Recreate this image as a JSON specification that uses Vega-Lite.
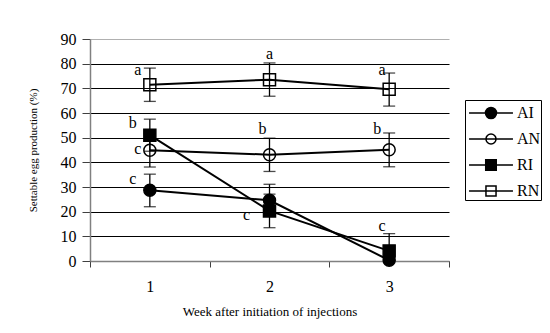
{
  "$schema": "https://vega.github.io/schema/vega-lite/v6.json",
  "width": 359,
  "height": 222,
  "autosize": {"type": "none"},
  "padding": {"left": 90, "top": 39, "right": 101, "bottom": 72},
  "background": "white",
  "config": {
    "font": "Liberation Serif",
    "view": {"stroke": null},
    "axis": {"labelFont": "Liberation Serif", "titleFont": "Liberation Serif", "labelColor": "black", "titleColor": "black", "titleFontWeight": "normal"}
  },
  "resolve": {"scale": {"shape": "independent"}},
  "data": {"values": [
    {"series": "AI", "week": "1", "y": 28.7, "lo": 22.0, "hi": 35.2, "letter": "c", "ly": 31.4},
    {"series": "AI", "week": "2", "y": 24.6, "lo": 18.1, "hi": 31.1, "letter": null, "ly": null},
    {"series": "AI", "week": "3", "y": 0.3, "lo": null, "hi": null, "letter": null, "ly": null},
    {"series": "AN", "week": "1", "y": 44.9, "lo": 38.1, "hi": 51.7, "letter": "c", "ly": 43.5},
    {"series": "AN", "week": "2", "y": 43.1, "lo": 36.3, "hi": 49.8, "letter": "b", "ly": 51.3},
    {"series": "AN", "week": "3", "y": 45.1, "lo": 38.2, "hi": 51.9, "letter": "b", "ly": 51.3},
    {"series": "RI", "week": "1", "y": 51.0, "lo": 44.5, "hi": 57.5, "letter": "b", "ly": 53.9},
    {"series": "RI", "week": "2", "y": 20.3, "lo": 13.5, "hi": 27.1, "letter": "c", "ly": 16.8},
    {"series": "RI", "week": "3", "y": 4.1, "lo": 0, "hi": 11.1, "letter": "c", "ly": 12.2},
    {"series": "RN", "week": "1", "y": 71.5, "lo": 64.7, "hi": 78.2, "letter": "a", "ly": 75.6},
    {"series": "RN", "week": "2", "y": 73.5, "lo": 66.8, "hi": 80.3, "letter": "a", "ly": 82.0},
    {"series": "RN", "week": "3", "y": 69.6, "lo": 62.8, "hi": 76.2, "letter": "a", "ly": 75.6}
  ]},
  "encoding": {
    "x": {
      "field": "week", "type": "ordinal",
      "scale": {"paddingInner": 0, "paddingOuter": 0},
      "axis": {
        "labelAngle": 0, "tickBand": "extent", "title": "Week after initiation of injections",
        "titleFontSize": 13, "titleBaseline": "alphabetic", "titleY": 54.5,
        "labelFontSize": 16, "labelBaseline": "alphabetic", "tickSize": 6, "labelPadding": 24.5,
        "domainColor": "#808080", "domainWidth": 1.5, "tickColor": "#404040", "tickWidth": 1, "grid": false
      }
    }
  },
  "layer": [
    {
      "mark": {"type": "line", "stroke": "black", "strokeWidth": 2},
      "encoding": {
        "y": {
          "field": "y", "type": "quantitative",
          "scale": {"domain": [0, 90], "nice": false},
          "axis": {"title": "Settable egg production (%)", "values": [0, 10, 20, 30, 40, 50, 60, 70, 80, 90], "tickCount": 10, "titleFontSize": 11, "titleX": -57, "titleY": 111, "titleBaseline": "middle", "labelFontSize": 16, "labelPadding": 6, "tickSize": 8, "domainColor": "#808080", "domainWidth": 1.5, "tickColor": "#404040", "tickWidth": 1, "grid": true, "gridWidth": 1, "gridColor": {"condition": {"test": "datum.value === 90", "value": "#b0b0b0"}, "value": "black"}}
        },
        "detail": {"field": "series"}
      }
    },
    {
      "mark": {"type": "rule", "stroke": "black", "strokeWidth": 1.3},
      "encoding": {
        "y": {"field": "lo", "type": "quantitative", "axis": {"title": "Settable egg production (%)", "values": [0, 10, 20, 30, 40, 50, 60, 70, 80, 90], "tickCount": 10, "titleFontSize": 11, "titleX": -57, "titleY": 111, "titleBaseline": "middle", "labelFontSize": 16, "labelPadding": 6, "tickSize": 8, "domainColor": "#808080", "domainWidth": 1.5, "tickColor": "#404040", "tickWidth": 1, "grid": true, "gridWidth": 1, "gridColor": {"condition": {"test": "datum.value === 90", "value": "#b0b0b0"}, "value": "black"}}},
        "y2": {"field": "hi"}
      }
    },
    {
      "mark": {"type": "tick", "color": "black", "size": 12, "thickness": 1.3},
      "encoding": {"y": {"field": "lo", "type": "quantitative", "axis": {"title": "Settable egg production (%)", "values": [0, 10, 20, 30, 40, 50, 60, 70, 80, 90], "tickCount": 10, "titleFontSize": 11, "titleX": -57, "titleY": 111, "titleBaseline": "middle", "labelFontSize": 16, "labelPadding": 6, "tickSize": 8, "domainColor": "#808080", "domainWidth": 1.5, "tickColor": "#404040", "tickWidth": 1, "grid": true, "gridWidth": 1, "gridColor": {"condition": {"test": "datum.value === 90", "value": "#b0b0b0"}, "value": "black"}}}}
    },
    {
      "mark": {"type": "tick", "color": "black", "size": 12, "thickness": 1.3},
      "encoding": {"y": {"field": "hi", "type": "quantitative", "axis": {"title": "Settable egg production (%)", "values": [0, 10, 20, 30, 40, 50, 60, 70, 80, 90], "tickCount": 10, "titleFontSize": 11, "titleX": -57, "titleY": 111, "titleBaseline": "middle", "labelFontSize": 16, "labelPadding": 6, "tickSize": 8, "domainColor": "#808080", "domainWidth": 1.5, "tickColor": "#404040", "tickWidth": 1, "grid": true, "gridWidth": 1, "gridColor": {"condition": {"test": "datum.value === 90", "value": "#b0b0b0"}, "value": "black"}}}}
    },
    {
      "mark": {"type": "point", "filled": true, "stroke": "black", "strokeWidth": 1.5, "opacity": 1, "size": 144},
      "encoding": {
        "y": {"field": "y", "type": "quantitative", "axis": {"title": "Settable egg production (%)", "values": [0, 10, 20, 30, 40, 50, 60, 70, 80, 90], "tickCount": 10, "titleFontSize": 11, "titleX": -57, "titleY": 111, "titleBaseline": "middle", "labelFontSize": 16, "labelPadding": 6, "tickSize": 8, "domainColor": "#808080", "domainWidth": 1.5, "tickColor": "#404040", "tickWidth": 1, "grid": true, "gridWidth": 1, "gridColor": {"condition": {"test": "datum.value === 90", "value": "#b0b0b0"}, "value": "black"}}},
        "shape": {
          "field": "series", "type": "nominal",
          "scale": {"domain": ["AI", "AN", "RI", "RN"], "range": ["circle", "circle", "square", "square"]},
          "legend": null
        },
        "fill": {
          "field": "series", "type": "nominal",
          "scale": {"domain": ["AI", "AN", "RI", "RN"], "range": ["black", "transparent", "black", "transparent"]},
          "legend": null
        }
      }
    },
    {
      "transform": [{"filter": "datum.series === 'none'"}],
      "mark": {"type": "point", "filled": false, "stroke": "black", "strokeWidth": 1.5, "opacity": 1},
      "encoding": {
        "y": {"field": "y", "type": "quantitative", "axis": {"title": "Settable egg production (%)", "values": [0, 10, 20, 30, 40, 50, 60, 70, 80, 90], "tickCount": 10, "titleFontSize": 11, "titleX": -57, "titleY": 111, "titleBaseline": "middle", "labelFontSize": 16, "labelPadding": 6, "tickSize": 8, "domainColor": "#808080", "domainWidth": 1.5, "tickColor": "#404040", "tickWidth": 1, "grid": true, "gridWidth": 1, "gridColor": {"condition": {"test": "datum.value === 90", "value": "#b0b0b0"}, "value": "black"}}},
        "shape": {
          "field": "series", "type": "nominal",
          "scale": {
            "domain": ["AI", "AN", "RI", "RN"],
            "range": [
              "M-1.83,0H1.83M0.46,0A0.46,0.46,0,1,1,-0.46,0A0.46,0.46,0,1,1,0.46,0ZM0.36,0A0.36,0.36,0,1,1,-0.36,0A0.36,0.36,0,1,1,0.36,0ZM0.26,0A0.26,0.26,0,1,1,-0.26,0A0.26,0.26,0,1,1,0.26,0ZM0.16,0A0.16,0.16,0,1,1,-0.16,0A0.16,0.16,0,1,1,0.16,0ZM0.06,0A0.06,0.06,0,1,1,-0.06,0A0.06,0.06,0,1,1,0.06,0Z",
              "M-1.83,0H1.83M0.42,0A0.42,0.42,0,1,1,-0.42,0A0.42,0.42,0,1,1,0.42,0Z",
              "M-1.83,0H1.83M-0.44,-0.44H0.44V0.44H-0.44ZM-0.34,-0.34H0.34V0.34H-0.34ZM-0.24,-0.24H0.24V0.24H-0.24ZM-0.14,-0.14H0.14V0.14H-0.14ZM-0.04,-0.04H0.04V0.04H-0.04Z",
              "M-1.83,0H1.83M-0.42,-0.42H0.42V0.42H-0.42Z"
            ]
          },
          "legend": {
            "title": null, "orient": "none", "legendX": 375, "legendY": 61,
            "strokeColor": "black", "fillColor": "white", "padding": 0,
            "symbolSize": 576, "symbolOffset": 13, "symbolStrokeColor": "black", "symbolStrokeWidth": 1.5,
            "labelFontSize": 16, "labelFont": "Liberation Serif", "labelColor": "black",
            "labelOffset": 13, "rowPadding": 4
          }
        }
      }
    },
    {
      "transform": [{"filter": "datum.series === 'RN' && datum.week === '2'"}],
      "mark": {"type": "text", "fontSize": 16, "font": "Liberation Serif", "baseline": "alphabetic", "align": "center", "dx": 0},
      "encoding": {"y": {"field": "ly", "type": "quantitative", "axis": {"title": "Settable egg production (%)", "values": [0, 10, 20, 30, 40, 50, 60, 70, 80, 90], "tickCount": 10, "titleFontSize": 11, "titleX": -57, "titleY": 111, "titleBaseline": "middle", "labelFontSize": 16, "labelPadding": 6, "tickSize": 8, "domainColor": "#808080", "domainWidth": 1.5, "tickColor": "#404040", "tickWidth": 1, "grid": true, "gridWidth": 1, "gridColor": {"condition": {"test": "datum.value === 90", "value": "#b0b0b0"}, "value": "black"}}}, "text": {"field": "letter"}}
    },
    {
      "transform": [{"filter": "(datum.series === 'RN' && datum.week === '3') || (datum.series === 'AN' && datum.week === '2') || (datum.series === 'RI' && datum.week === '3')"}],
      "mark": {"type": "text", "fontSize": 16, "font": "Liberation Serif", "baseline": "alphabetic", "align": "center", "dx": -7},
      "encoding": {"y": {"field": "ly", "type": "quantitative", "axis": {"title": "Settable egg production (%)", "values": [0, 10, 20, 30, 40, 50, 60, 70, 80, 90], "tickCount": 10, "titleFontSize": 11, "titleX": -57, "titleY": 111, "titleBaseline": "middle", "labelFontSize": 16, "labelPadding": 6, "tickSize": 8, "domainColor": "#808080", "domainWidth": 1.5, "tickColor": "#404040", "tickWidth": 1, "grid": true, "gridWidth": 1, "gridColor": {"condition": {"test": "datum.value === 90", "value": "#b0b0b0"}, "value": "black"}}}, "text": {"field": "letter"}}
    },
    {
      "transform": [{"filter": "(datum.series === 'RN' && datum.week === '1') || (datum.series === 'AN' && datum.week === '1') || (datum.series === 'AN' && datum.week === '3')"}],
      "mark": {"type": "text", "fontSize": 16, "font": "Liberation Serif", "baseline": "alphabetic", "align": "center", "dx": -12},
      "encoding": {"y": {"field": "ly", "type": "quantitative", "axis": {"title": "Settable egg production (%)", "values": [0, 10, 20, 30, 40, 50, 60, 70, 80, 90], "tickCount": 10, "titleFontSize": 11, "titleX": -57, "titleY": 111, "titleBaseline": "middle", "labelFontSize": 16, "labelPadding": 6, "tickSize": 8, "domainColor": "#808080", "domainWidth": 1.5, "tickColor": "#404040", "tickWidth": 1, "grid": true, "gridWidth": 1, "gridColor": {"condition": {"test": "datum.value === 90", "value": "#b0b0b0"}, "value": "black"}}}, "text": {"field": "letter"}}
    },
    {
      "transform": [{"filter": "(datum.series === 'RI' && datum.week === '1') || (datum.series === 'AI' && datum.week === '1')"}],
      "mark": {"type": "text", "fontSize": 16, "font": "Liberation Serif", "baseline": "alphabetic", "align": "center", "dx": -17},
      "encoding": {"y": {"field": "ly", "type": "quantitative", "axis": {"title": "Settable egg production (%)", "values": [0, 10, 20, 30, 40, 50, 60, 70, 80, 90], "tickCount": 10, "titleFontSize": 11, "titleX": -57, "titleY": 111, "titleBaseline": "middle", "labelFontSize": 16, "labelPadding": 6, "tickSize": 8, "domainColor": "#808080", "domainWidth": 1.5, "tickColor": "#404040", "tickWidth": 1, "grid": true, "gridWidth": 1, "gridColor": {"condition": {"test": "datum.value === 90", "value": "#b0b0b0"}, "value": "black"}}}, "text": {"field": "letter"}}
    },
    {
      "transform": [{"filter": "datum.series === 'RI' && datum.week === '2'"}],
      "mark": {"type": "text", "fontSize": 16, "font": "Liberation Serif", "baseline": "alphabetic", "align": "center", "dx": -23},
      "encoding": {"y": {"field": "ly", "type": "quantitative", "axis": {"title": "Settable egg production (%)", "values": [0, 10, 20, 30, 40, 50, 60, 70, 80, 90], "tickCount": 10, "titleFontSize": 11, "titleX": -57, "titleY": 111, "titleBaseline": "middle", "labelFontSize": 16, "labelPadding": 6, "tickSize": 8, "domainColor": "#808080", "domainWidth": 1.5, "tickColor": "#404040", "tickWidth": 1, "grid": true, "gridWidth": 1, "gridColor": {"condition": {"test": "datum.value === 90", "value": "#b0b0b0"}, "value": "black"}}}, "text": {"field": "letter"}}
    }
  ]
}
